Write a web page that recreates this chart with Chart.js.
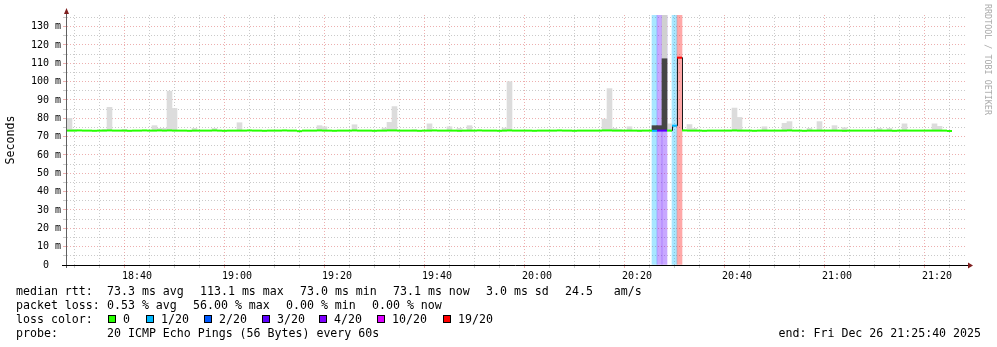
<!DOCTYPE html>
<html>
<head>
<meta charset="utf-8">
<script src="https://cdn.jsdelivr.net/npm/chart.js@4.4.1/dist/chart.umd.min.js"></script>
<style>
  html, body { margin: 0; padding: 0; background: #fff; }
  #wrap { position: relative; width: 997px; height: 347px; overflow: hidden; }
  #graph { position: absolute; left: 0; top: 0; }
  .txt { position: absolute; font: 11.6px "DejaVu Sans Mono", monospace; line-height: 14px; white-space: pre; color: #000; }
  .box { position: absolute; width: 6px; height: 6px; border: 1px solid #000; }
  #mark { position: absolute; left: 993px; top: 4px; font: 8.4px "DejaVu Sans Mono", monospace; line-height: 10px;
          color: #aaa; white-space: pre; transform-origin: 0 0; transform: rotate(90deg); }
</style>
</head>
<body>
<div id="wrap">
  <canvas id="graph" width="997" height="347"></canvas>
  <div id="legend"></div>
  <div id="mark">RRDTOOL / TOBI OETIKER</div>
</div>
<script>
// one sample per minute, the plot starts at 18:26 and spans 180 minutes
const startTime = "18:26";
const spanMinutes = 180;
const timeLabels = ["18:40", "19:00", "19:20", "19:40", "20:00", "20:20", "20:40", "21:00", "21:20"];

// median rtt per minute (ms)
const medianRtt = [
  73.3, 73.3, 73.4, 73.3, 73.3, 73.2, 73.3, 73.3, 73.4, 73.3, 73.3, 73.3, 73.2, 73.3, 73.3, 73.4, 73.3, 73.3, 73.4, 73.3,
  73.4, 73.3, 73.3, 73.3, 73.2, 73.3, 73.3, 73.3, 73.3, 73.4, 73.3, 73.2, 73.3, 73.3, 73.3, 73.3, 73.4, 73.3, 73.3, 73.2,
  73.3, 73.3, 73.3, 73.4, 73.3, 73.3, 73.0, 73.3, 73.3, 73.3, 73.4, 73.3, 73.3, 73.2, 73.3, 73.3, 73.3, 73.4, 73.3, 73.3,
  73.3, 73.2, 73.3, 73.3, 73.4, 73.4, 73.3, 73.3, 73.3, 73.3, 73.2, 73.3, 73.3, 73.4, 73.3, 73.3, 73.3, 73.3, 73.2, 73.3,
  73.3, 73.3, 73.4, 73.3, 73.3, 73.3, 73.2, 73.3, 73.4, 73.3, 73.3, 73.3, 73.3, 73.2, 73.3, 73.3, 73.3, 73.3, 73.4, 73.3,
  73.3, 73.2, 73.3, 73.3, 73.3, 73.3, 73.3, 73.4, 73.4, 73.3, 73.3, 73.3, 73.3, 73.3, 73.2, 73.3, 73.3, 73.2, 73.3, 73.3,
  73.3, 76.0, 113.1, 73.4, 73.3, 73.3, 73.3, 73.2, 73.3, 73.3, 73.3, 73.3, 73.3, 73.4, 73.3, 73.3, 73.3, 73.2, 73.3, 73.3,
  73.3, 73.3, 73.3, 73.3, 73.4, 73.3, 73.3, 73.2, 73.3, 73.3, 73.3, 73.3, 73.3, 73.3, 73.3, 73.2, 73.3, 73.3, 73.3, 73.3,
  73.3, 73.3, 73.3, 73.3, 73.3, 73.2, 73.3, 73.3, 73.3, 73.3, 73.3, 73.3, 73.3, 73.3, 73.3, 73.3, 73.1
];

// smoke: highest ping of the minute (ms), minute index counted from startTime
const smokeMinute = [0, 1, 7, 8, 11, 17, 18, 19, 20, 21, 25, 29, 34, 50, 51, 57, 63, 64, 65, 69,
  72, 76, 78, 80, 87, 88, 107, 108, 109, 110, 112, 114, 119, 120, 124, 125, 132, 133, 134, 135,
  139, 143, 144, 148, 150, 152, 153, 155, 162, 164, 167, 172, 173, 174];
const smokeMax = [80, 74, 74, 86, 74, 76, 74.5, 74.5, 94.8, 85.4, 74.5, 74.5, 77.6, 76, 75.4, 76.5, 74.7, 77.8, 86.4, 73.8,
  77, 75.4, 74.5, 76, 74.7, 100, 79.6, 96.2, 74.5, 74, 75.4, 73.8, 150, 77, 76.6, 74.5, 73.6, 85.6, 80.5, 73.6,
  75.4, 77.3, 78.2, 74.5, 78.2, 73.6, 76, 74.9, 74.5, 74.5, 77, 73.6, 77, 75.6];

// dense smoke during the outage
const denseMinute = [117, 118, 119];
const denseMax = [76, 76, 112.5];

// lost pings out of 20
const lossMinute = [117, 118, 119, 121, 122];
const lossCount = [1, 3, 3, 1, 19];

const lossSteps = [0, 1, 2, 3, 4, 10, 19];
const lossNames = ["0", "1/20", "2/20", "3/20", "4/20", "10/20", "19/20"];
const lossColors = ["#26ff00", "#00b8ff", "#0059ff", "#5e00ff", "#7e00ff", "#dd00ff", "#ff0000"];

const toMin = (t) => { const [h, m] = t.split(":").map(Number); return h * 60 + m; };
const origin = toMin(startTime);
const labelAt = {};
timeLabels.forEach((t) => { labelAt[toMin(t) - origin] = t; });

function colorForLoss(n) {
  let c = lossColors[0];
  lossSteps.forEach((s, k) => { if (n >= s) c = lossColors[k]; });
  return c;
}
function lossAt(i) {
  const k = lossMinute.indexOf(i);
  return k < 0 ? 0 : lossCount[k];
}
function fade(hex, a) {
  const n = parseInt(hex.slice(1), 16);
  return `rgba(${n >> 16},${(n >> 8) & 255},${n & 255},${a})`;
}

const medianPoints = medianRtt.map((v, i) => ({ x: i + 0.5, y: v }));

const minorGrid = "rgba(150,150,150,0.5)";
const majorGrid = "rgba(220,95,95,0.5)";

const barCommon = { type: "bar", grouped: false, barPercentage: 1, categoryPercentage: 1, borderWidth: 0 };

// axis lines and arrows, drawn like rrdtool does
const axisArrows = {
  id: "axisArrows",
  beforeDatasetDraw(chart, args) {
    // keep the 1px step connectors on whole pixels
    if (args.meta.label === "median steps") {
      chart.ctx.save();
      chart.ctx.translate(0.5, 0);
    }
  },
  afterDatasetDraw(chart, args) {
    if (args.meta.label === "median steps") chart.ctx.restore();
  },
  afterDraw(chart) {
    const { ctx, chartArea: a } = chart;
    ctx.save();
    ctx.lineWidth = 1;
    ctx.strokeStyle = "#606060";
    ctx.beginPath();
    ctx.moveTo(a.left - 0.5, a.bottom + 3);
    ctx.lineTo(a.left - 0.5, a.top - 3);
    ctx.stroke();
    ctx.strokeStyle = "#000";
    ctx.beginPath();
    ctx.moveTo(a.left - 5, a.bottom + 0.5);
    ctx.lineTo(a.right + 2, a.bottom + 0.5);
    ctx.stroke();
    ctx.fillStyle = "#7f1f1f";
    ctx.beginPath();
    ctx.moveTo(a.left - 3, a.top - 1);
    ctx.lineTo(a.left + 2, a.top - 1);
    ctx.lineTo(a.left - 0.5, a.top - 7);
    ctx.closePath();
    ctx.fill();
    ctx.beginPath();
    ctx.moveTo(a.right + 1, a.bottom - 2.5);
    ctx.lineTo(a.right + 1, a.bottom + 3.5);
    ctx.lineTo(a.right + 6, a.bottom + 0.5);
    ctx.closePath();
    ctx.fill();
    ctx.restore();
  }
};

Chart.defaults.font.family = "'DejaVu Sans Mono', monospace";
Chart.defaults.font.size = 10;
Chart.defaults.color = "#000";

new Chart(document.getElementById("graph"), {
  type: "line",
  data: {
    datasets: [
      {
        ...barCommon,
        label: "loss",
        data: lossMinute.map((m) => ({ x: m + 0.5, y: [0, 200] })),
        backgroundColor: lossCount.map((n) => fade(colorForLoss(n), 0.34)),
        order: 4
      },
      {
        ...barCommon,
        label: "smoke",
        data: smokeMinute.map((m, k) => ({ x: m + 0.5, y: [medianRtt[m], smokeMax[k]] })),
        backgroundColor: smokeMinute.map((m, k) => (smokeMax[k] > 110 ? "#d0d0d0" : "#dcdcdc")),
        order: 3
      },
      {
        ...barCommon,
        label: "dense smoke",
        data: denseMinute.map((m, k) => ({ x: m + 0.5, y: [medianRtt[m], denseMax[k]] })),
        backgroundColor: "#454545",
        order: 2
      },
      {
        label: "median steps",
        data: medianPoints,
        stepped: "middle",
        borderColor: "#1a1a1a",
        borderWidth: 1,
        pointRadius: 0,
        segment: {
          borderColor: (c) => (Math.abs(c.p0.parsed.y - c.p1.parsed.y) < 1 ? "rgba(0,0,0,0)" : "#1a1a1a")
        },
        order: 1
      },
      {
        label: "median rtt",
        data: medianPoints,
        showLine: false,
        pointStyle: "line",
        pointRadius: 2.5,
        pointBorderWidth: 2,
        pointBorderColor: medianRtt.map((v, i) => colorForLoss(lossAt(i))),
        order: 0
      }
    ]
  },
  options: {
    responsive: false,
    animation: false,
    devicePixelRatio: 1,
    events: [],
    layout: { padding: { top: 15, right: 30, left: 0, bottom: 0 } },
    plugins: { legend: { display: false }, tooltip: { enabled: false } },
    scales: {
      x: {
        type: "linear",
        min: 0,
        max: spanMinutes,
        offset: false,
        afterFit: (s) => { s.height = 82; },
        afterBuildTicks: (s) => {
          const ticks = [];
          for (let m = (5 - (origin % 5)) % 5; m <= spanMinutes; m += 5) ticks.push({ value: m });
          s.ticks = ticks;
        },
        ticks: {
          autoSkip: false,
          maxRotation: 0,
          padding: 2,
          callback: (v) => labelAt[v] || ""
        },
        grid: {
          color: (c) => (c.tick && labelAt[c.tick.value] ? majorGrid : minorGrid),
          tickLength: 3,
          lineWidth: 1
        },
        border: { display: false, dash: [1, 2] }
      },
      y: {
        min: 0,
        max: 136.36,
        afterFit: (s) => { s.width = 67; },
        afterBuildTicks: (s) => {
          const ticks = [];
          for (let v = 0; v <= 135; v += 5) ticks.push({ value: v });
          s.ticks = ticks;
        },
        ticks: {
          autoSkip: false,
          padding: 2,
          callback: (v) => (v % 10 !== 0 ? "" : v === 0 ? "0  " : v + " m")
        },
        grid: {
          color: (c) => (c.tick && c.tick.value % 10 === 0 ? majorGrid : minorGrid),
          tickLength: 4,
          lineWidth: 1
        },
        border: { display: false, dash: [1, 2] },
        title: {
          display: true,
          text: "Seconds",
          color: "#000",
          font: { size: 11.6 },
          padding: { top: 4, bottom: 0 }
        }
      }
    }
  },
  plugins: [axisArrows]
});

// rrdtool style legend below the graph
const legendRows = [
  { top: 284, items: [[16, "median rtt:"], [107, "73.3 ms avg"], [200, "113.1 ms max"], [300, "73.0 ms min"],
      [393, "73.1 ms now"], [486, "3.0 ms sd"], [565, "24.5   am/s"]] },
  { top: 298, items: [[16, "packet loss:"], [107, "0.53 % avg"], [193, "56.00 % max"], [286, "0.00 % min"],
      [372, "0.00 % now"]] },
  { top: 312, items: [[16, "loss color:"]] },
  { top: 326, items: [[16, "probe:"], [107, "20 ICMP Echo Pings (56 Bytes) every 60s"]] }
];
const lossKeyX = [108, 146, 204, 262, 319, 377, 443];

const legend = document.getElementById("legend");
function addText(left, top, text) {
  const el = document.createElement("div");
  el.className = "txt";
  el.style.left = left + "px";
  el.style.top = top + "px";
  el.textContent = text;
  legend.appendChild(el);
  return el;
}
legendRows.forEach((row) => row.items.forEach(([x, t]) => addText(x, row.top, t)));
lossNames.forEach((name, k) => {
  const box = document.createElement("div");
  box.className = "box";
  box.style.left = lossKeyX[k] + "px";
  box.style.top = "315px";
  box.style.background = lossColors[k];
  legend.appendChild(box);
  addText(lossKeyX[k] + 15, 312, name);
});
const end = addText(0, 326, "end: Fri Dec 26 21:25:40 2025");
end.style.left = "auto";
end.style.right = "16px";
</script>
</body>
</html>
